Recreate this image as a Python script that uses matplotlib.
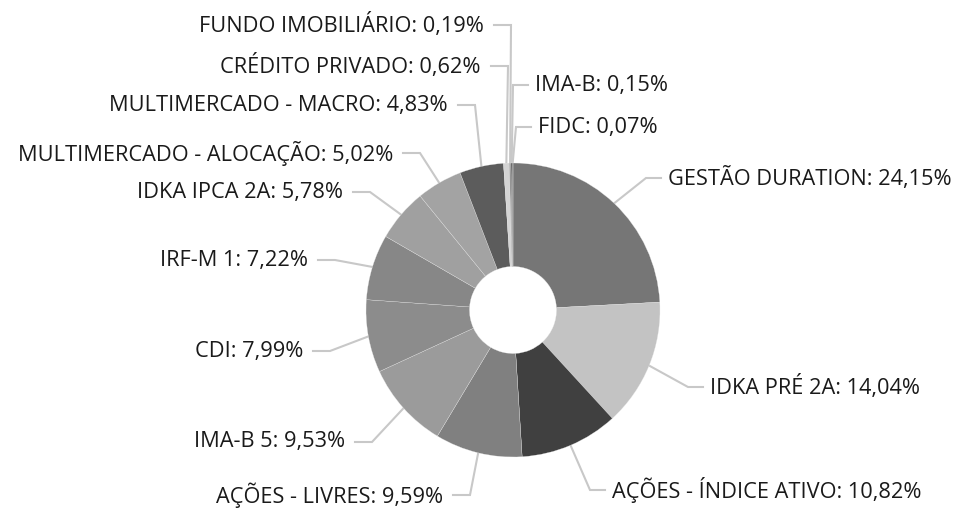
import numpy as np
import matplotlib
matplotlib.use("Agg")
import matplotlib.pyplot as plt

categories = ["GESTÃO DURATION", "IDKA PRÉ 2A", "AÇÕES - ÍNDICE ATIVO", "AÇÕES - LIVRES",
              "IMA-B 5", "CDI", "IRF-M 1", "IDKA IPCA 2A", "MULTIMERCADO - ALOCAÇÃO",
              "MULTIMERCADO - MACRO", "CRÉDITO PRIVADO", "FUNDO IMOBILIÁRIO", "IMA-B", "FIDC"]
values = [24.15, 14.04, 10.82, 9.59, 9.53, 7.99, 7.22, 5.78, 5.02, 4.83, 0.62, 0.19, 0.15, 0.07]
colors = ["#767676", "#c3c3c3", "#404040", "#808080", "#9b9b9b", "#8c8c8c", "#878787",
          "#a0a0a0", "#a3a3a3", "#5c5c5c", "#d4d4d4", "#959595", "#5a5a5a", "#2e2e2e"]

# label layout (pixel positions of text anchor; side: 'L' = text to left of the leader)
label_pos = [(668, 178, 'R'), (710, 387, 'R'), (612, 490, 'R'), (443, 495, 'L'),
             (345, 442, 'L'), (303, 351, 'L'), (308, 260, 'L'), (343, 192, 'L'),
             (393, 153, 'L'), (448, 105, 'L'), (481, 66, 'L'), (484, 25, 'L'),
             (535, 85, 'R'), (538, 127, 'R')]

W, H = 956, 509
CX, CY, R = 513, 310, 147.0

def px(x, y):
    return ((x - CX) / R, (CY - y) / R)

fig = plt.figure(figsize=(W / 100, H / 100), dpi=100)
ax = fig.add_axes([0, 0, 1, 1])

wedges, _ = ax.pie(values, colors=colors, startangle=90, counterclock=False, radius=1.0,
                   wedgeprops=dict(width=1.0 - 43.5 / R, edgecolor="#e8e8e8", linewidth=0.2))
ax.set_aspect("auto")
ax.set_xlim(-CX / R, (W - CX) / R)
ax.set_ylim(-(H - CY) / R, CY / R)
ax.axis("off")

for w, name, v, (lx, ly, side) in zip(wedges, categories, values, label_pos):
    ang = np.deg2rad((w.theta1 + w.theta2) / 2)
    ax_, ay_ = np.cos(ang) * 1.0, np.sin(ang) * 1.0
    if side == 'L':
        ex, sx = lx + 27, lx + 10
        ha = 'right'
    else:
        ex, sx = lx - 22, lx - 7
        ha = 'left'
    e = px(ex, ly)
    s = px(sx, ly)
    ax.plot([ax_, e[0], s[0]], [ay_, e[1], s[1]], color="#c8c8c8", lw=1.5,
            solid_joinstyle="miter", zorder=0)
    t = px(lx, ly)
    ax.text(t[0], t[1], f"{name}: {v:.2f}".replace(".", ",") + "%", ha=ha, va="center",
            fontsize=15.7, family="Open Sans", color="#1a1a1a")

fig.savefig("out.png", dpi=100)
